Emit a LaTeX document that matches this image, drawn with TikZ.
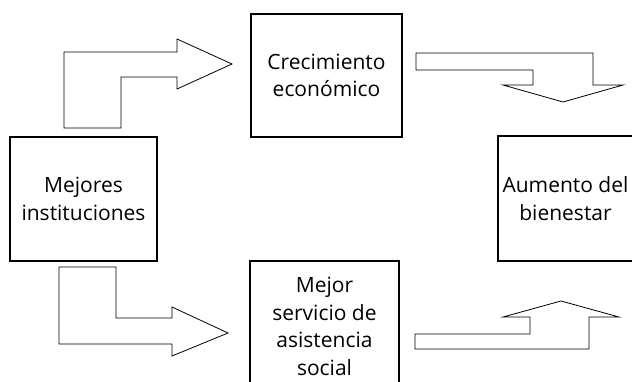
\documentclass[tikz,border=0pt]{standalone}
\usepackage{fontspec}
\setmainfont{Open Sans}

\begin{document}
\begin{tikzpicture}[x=1pt,y=-1pt]
    \tikzstyle{box}=[draw,line width=1.2pt,inner sep=0pt,align=center,font=\fontsize{21}{27.5}\selectfont]
    \tikzstyle{bigarrow}=[draw,line width=.8pt,fill=white,line join=miter]
    \useasboundingbox (0,0) rectangle (632,382);
    % boxes
    \node[box,minimum width=151pt,minimum height=123pt] (crec) at (326.5,75.5) {Crecimiento\\econ\'omico};
    \node[box,minimum width=147pt,minimum height=124pt] (inst) at (83.5,199) {Mejores\\instituciones};
    \node[box,minimum width=149pt,minimum height=131pt] (serv) at (324.5,326.5) {Mejor\\servicio de\\asistencia\\social};
    \node[box,minimum width=135pt,minimum height=125pt] (bien) at (565.5,198.5) {Aumento del\\bienestar};
    % block arrows
    \draw[bigarrow] (64,128) -- (64,52) -- (177,52) -- (177,39) -- (232,64)
        -- (177,89) -- (177,77) -- (121,77) -- (121,128) -- cycle;
    \draw[bigarrow] (416,53) -- (593,53) -- (593,85) -- (623,85) -- (563,102)
        -- (503,85) -- (533,85) -- (533,70) -- (416,70) -- cycle;
    \draw[bigarrow] (59,267) -- (116,267) -- (116,318) -- (172,318) -- (172,307)
        -- (228,333) -- (172,356) -- (172,344) -- (59,344) -- cycle;
    \draw[bigarrow] (415,334) -- (530,334) -- (530,317) -- (503,317) -- (561,301)
        -- (619,317) -- (589,317) -- (589,349) -- (415,349) -- cycle;
\end{tikzpicture}
\end{document}
